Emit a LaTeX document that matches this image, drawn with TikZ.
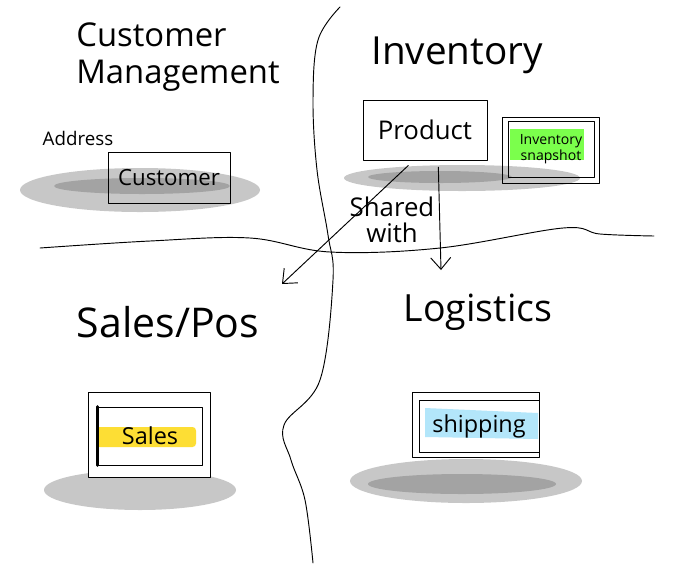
\documentclass[tikz,border=0pt]{standalone}
\usepackage{fontspec}
\setmainfont{Open Sans}
\usetikzlibrary{arrows.meta,positioning}

\begin{document}
\begin{tikzpicture}[x=0.03cm,y=-0.03cm,line cap=round,line join=round]
        \useasboundingbox (0,0) rectangle (700,576);
        \tikzset{title/.style={font=\fontsize{28}{31}\selectfont,align=left},
                 box/.style={draw,thick,inner sep=0pt},
                 shade1/.style={fill=black!22},
                 shade2/.style={fill=black!36}}

        % borders of the contexts
        \draw [thick] plot [smooth,tension=0.6] coordinates {(340,7) (318,40) (313,100) (317,170) (328,235) (333,280) (320,380) (284,425) (291,460) (305,500) (313,563)};
        \draw [thick] plot [smooth,tension=0.6] coordinates {(40,248) (150,241) (250,238) (330,252) (440,248) (563,228) (600,234) (654,236)};

        % shadows
        \path [shade1] (140,190) ellipse [x radius=120,y radius=22];
        \path [shade2] (142,186) ellipse [x radius=88,y radius=8];
        \path [shade1] (462,178) ellipse [x radius=118,y radius=13];
        \path [shade2] (440,177) ellipse [x radius=72,y radius=6];
        \path [shade1] (140,490) ellipse [x radius=96,y radius=20];
        \path [shade1] (466,481) ellipse [x radius=116,y radius=22];
        \path [shade2] (462,484) ellipse [x radius=94,y radius=10];

        \node [title] (cm) at (178,57) {Customer\\Management};
        \node [title,font=\fontsize{33}{36}\selectfont] (inv) at (457,55) {Inventory};
        \node [title,font=\fontsize{35}{38}\selectfont] (pos) at (168,322) {Sales/Pos};
        \node [title,font=\fontsize{32}{35}\selectfont] (log) at (478,312) {Logistics};

        \node [font=\fontsize{16}{18}\selectfont] (addr) at (78,138) {Address};
        \node [box,minimum width=3.66cm,minimum height=1.53cm,font=\fontsize{19}{21}\selectfont] (cust) at (169,178) {Customer};
        \node [box,minimum width=3.72cm,minimum height=1.8cm,font=\fontsize{22}{24}\selectfont] (prod) at (425,130) {Product};

        % inventory snapshot
        \fill [green!65!lime!70] (510,129) rectangle (584,160);
        \node [box,minimum width=2.91cm,minimum height=1.98cm] (snapf) at (551,150) {};
        \node [box,semithick,minimum width=2.58cm,minimum height=1.68cm,align=center,font=\fontsize{12}{14}\selectfont] (snap) at (551,149) {Inventory\\snapshot};

        % sales
        \node [box,fill=white,minimum width=3.66cm,minimum height=2.55cm] (salesf) at (149,435) {};
        \fill [yellow!75!orange!80,rounded corners=3pt] (96,427) rectangle (196,447);
        \node [box,semithick,minimum width=3.15cm,minimum height=1.74cm,font=\fontsize{20}{22}\selectfont] (sales) at (150,436) {Sales};
        \draw [line width=2.5pt] (sales.north west) -- (sales.south west);

        % shipping
        \node [box,fill=white,minimum width=3.81cm,minimum height=1.95cm] (shipf) at (476,425) {};
        \fill [cyan!30] (425,408) -- (538,413) -- (538,439) -- (425,437) -- cycle;
        \node [box,semithick,minimum width=3.6cm,minimum height=1.56cm,font=\fontsize{20}{22}\selectfont] (ship) at (479,426) {shipping};

        % shared with
        \coordinate (salesEnd) at (282,284);
        \coordinate (logEnd) at (441,270);
        \draw [-{Straight Barb[length=3.5mm,width=6mm]},thick] ([xshift=-0.5cm,yshift=-0.15cm]prod.south) -- (salesEnd);
        \draw [-{Straight Barb[length=3.5mm,width=6mm]},thick] ([xshift=0.4cm,yshift=-0.2cm]prod.south) -- (logEnd);
        \node [align=center,font=\fontsize{22}{22}\selectfont] (sw) at (392,220) {Shared\\with};
    \end{tikzpicture}
\end{document}
